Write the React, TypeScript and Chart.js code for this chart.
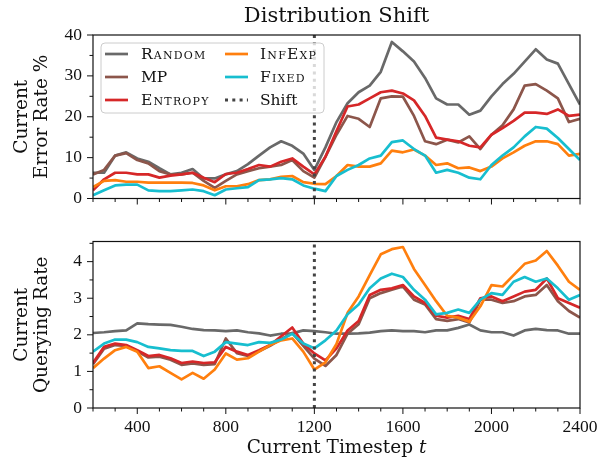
import React, { useEffect, useRef } from "react";
import { Chart, registerables } from "chart.js";

Chart.register(...registerables);

// ---------------- data ----------------
const TIMESTEPS = [
  200, 250, 300, 350, 400, 450, 500, 550, 600, 650, 700, 750, 800, 850, 900,
  950, 1000, 1050, 1100, 1150, 1200, 1250, 1300, 1350, 1400, 1450, 1500, 1550,
  1600, 1650, 1700, 1750, 1800, 1850, 1900, 1950, 2000, 2050, 2100, 2150, 2200,
  2250, 2300, 2350, 2400,
];
const SHIFT_T = 1200;

// Current error rate (%)
const ERR_RANDOM = [
  6.3, 6.3, 10.5, 11.3, 9.8, 9, 7.4, 5.9, 6.3, 7.2, 4.9, 4.9, 5.9, 6.7, 8.4,
  10.5, 12.5, 14, 12.9, 11, 7, 12.5, 18.7, 23.3, 26, 27.6, 31, 38.3, 36, 33.5,
  29.5, 24.5, 23, 23, 20.5, 21.5, 25, 28, 30.5, 33.5, 36.5, 34, 33, 28, 23,
];
const ERR_MP = [
  5.9, 7, 10.5, 11.1, 9.4, 8.6, 6.7, 5.9, 5.9, 6.3, 4.3, 2.6, 4.3, 5.9, 6.7,
  7.4, 7.8, 8.2, 9.4, 6.7, 5.1, 10.2, 15.6, 20.2, 19.5, 17.5, 24.5, 25, 24.9,
  20.2, 14, 13.3, 14.4, 13.7, 15.2, 12.1, 15.6, 17.9, 21.8, 27.6, 28, 26.4,
  24.5, 18.7, 19.5,
];
const ERR_ENTROPY = [
  2, 4.7, 6.3, 6.3, 5.9, 5.9, 5.1, 5.6, 5.9, 6.3, 5.1, 4, 6, 6.3, 7.2, 8.2,
  7.8, 9, 9.8, 7.8, 5.9, 10.2, 16.5, 22.5, 23, 24.5, 26, 26.4, 25.7, 24, 20.2,
  14.9, 14.4, 14, 12.9, 12.5, 15.6, 17.2, 19, 21, 21, 20.7, 21.8, 20.2, 20.5,
];
const ERR_INFEXP = [
  2.8, 4.3, 4.5, 4.1, 4.1, 3.9, 3.9, 3.9, 3.9, 3.8, 3.2, 2, 3, 3, 3.5, 4.5,
  4.7, 5.3, 5.5, 4, 3.6, 3.5, 5.5, 8.2, 7.8, 7.8, 8.6, 11.7, 11.3, 12, 10.5,
  8.2, 8.6, 7.4, 7.6, 6.7, 7.8, 9.8, 11.3, 12.9, 14, 14, 13.3, 10.5, 10.9,
];
const ERR_FIXED = [
  0.8, 2, 3.2, 3.4, 3.4, 2, 1.8, 1.8, 2, 2.2, 1.8, 0.8, 2.2, 2.5, 2.8, 4.5,
  4.7, 5, 4.7, 3.2, 2.4, 1.8, 5.5, 7, 8.2, 9.8, 10.5, 13.8, 14.2, 12.1, 10.5,
  6.3, 7, 6.3, 5.1, 4.7, 8.2, 10.5, 12.5, 15.2, 17.5, 17.1, 14.8, 12.1, 9.4,
];

// Current querying rate
const Q_RANDOM = [
  2.05, 2.07, 2.1, 2.12, 2.31, 2.29, 2.28, 2.27, 2.22, 2.16, 2.13, 2.12, 2.1,
  2.12, 2.07, 2.04, 1.98, 2.03, 2.04, 2.12, 2.1, 2.07, 2.03, 2.03, 2.04, 2.06,
  2.1, 2.12, 2.1, 2.1, 2.07, 2.12, 2.12, 2.19, 2.28, 2.12, 2.07, 2.07, 1.98,
  2.12, 2.16, 2.13, 2.12, 2.03, 2.03,
];
const Q_MP = [
  1.2, 1.62, 1.72, 1.7, 1.55, 1.38, 1.4, 1.32, 1.18, 1.22, 1.18, 1.2, 1.9, 1.5,
  1.42, 1.55, 1.7, 1.88, 2.05, 1.7, 1.35, 1.15, 1.45, 2.03, 2.29, 3.0, 3.14,
  3.23, 3.32, 2.96, 2.83, 2.43, 2.38, 2.43, 2.34, 2.96, 2.96, 2.87, 2.92, 3.05,
  3.09, 3.36, 2.92, 2.65, 2.47,
];
const Q_ENTROPY = [
  1.23, 1.67, 1.76, 1.72, 1.58, 1.42, 1.45, 1.36, 1.23, 1.27, 1.23, 1.25, 1.67,
  1.54, 1.45, 1.58, 1.72, 1.96, 2.2, 1.76, 1.49, 1.3, 1.63, 2.12, 2.38, 3.09,
  3.23, 3.27, 3.36, 3.05, 2.87, 2.52, 2.47, 2.52, 2.43, 3.0, 3.05, 2.92, 3.05,
  3.18, 3.23, 3.54, 3.0, 2.87, 2.74,
];
const Q_INFEXP = [
  1.09, 1.35, 1.58, 1.67, 1.54, 1.09, 1.14, 0.96, 0.78, 0.96, 0.8, 1.05, 1.49,
  1.32, 1.36, 1.54, 1.72, 1.85, 1.9, 1.54, 1.05, 1.25, 1.75, 2.6, 3.05, 3.63,
  4.2, 4.34, 4.4, 3.8, 3.36, 2.92, 2.52, 2.47, 2.36, 2.78, 3.36, 3.32, 3.63,
  3.94, 4.03, 4.29, 3.89, 3.45, 3.23,
];
const Q_FIXED = [
  1.54, 1.76, 1.87, 1.87, 1.8, 1.67, 1.63, 1.58, 1.56, 1.56, 1.42, 1.54, 1.8,
  1.76, 1.72, 1.8, 1.78, 1.87, 2.03, 1.76, 1.63, 1.85, 2.12, 2.56, 2.83, 3.27,
  3.54, 3.67, 3.58, 3.23, 2.96, 2.56, 2.6, 2.69, 2.6, 2.96, 3.14, 3.09, 3.45,
  3.58, 3.45, 3.54, 3.27, 2.96, 3.09,
];

const NAMES = ["Random", "MP", "Entropy", "InfExp", "Fixed"];
const SMALL_CAPS = [true, false, true, true, true];
const SHIFT_NAME = "Shift";

const X_MAJOR = [400, 800, 1200, 1600, 2000, 2400];
const X_MINOR = [
  200, 300, 500, 600, 700, 900, 1000, 1100, 1300, 1400, 1500, 1700, 1800, 1900,
  2100, 2200, 2300,
];
const ERR_MAJOR = [0, 10, 20, 30, 40];
const ERR_MINOR = [5, 15, 25, 35];
const Q_MAJOR = [0, 1, 2, 3, 4];
const Q_MINOR = [0.5, 1.5, 2.5, 3.5, 4.5];

const TITLE = "Distribution Shift";
const ERR_YTITLE = ["Current", "Error Rate %"];
const Q_YTITLE = ["Current", "Querying Rate"];
const XTITLE = "Current Timestep ";
const XTITLE_VAR = "t";

// ---------------- styles ----------------
const COLORS = ["#696969", "#8c564b", "#d62728", "#ff7f0e", "#17becf"];
const SHIFT_COLOR = "#444444";
const TEXT_FONT = '"DejaVu Serif"';
const NUM_FONT = '"Liberation Serif"';
const INK = "#111111";

function buildDatasets(series: number[][], yMin: number, yMax: number) {
  const ds: any[] = series.map((vals, i) => ({
    label: NAMES[i],
    data: TIMESTEPS.map((t, j) => ({ x: t, y: vals[j] })),
    borderColor: COLORS[i],
    backgroundColor: COLORS[i],
    borderWidth: 2.7,
    pointRadius: 0,
    tension: 0,
    fill: false,
    borderJoinStyle: "round",
    order: 10 - i,
  }));
  ds.push({
    label: SHIFT_NAME,
    data: [
      { x: SHIFT_T, y: yMin },
      { x: SHIFT_T, y: yMax },
    ],
    borderColor: SHIFT_COLOR,
    borderWidth: 3,
    borderDash: [3, 4.3],
    borderCapStyle: "butt",
    pointRadius: 0,
    fill: false,
    order: 0,
  });
  return ds;
}

function drawLegend(ctx: CanvasRenderingContext2D) {
  const box = { x: 101, y: 43, w: 223, h: 70, r: 4 };
  ctx.save();
  ctx.beginPath();
  const { x, y, w, h, r } = box;
  ctx.moveTo(x + r, y);
  ctx.lineTo(x + w - r, y);
  ctx.arcTo(x + w, y, x + w, y + r, r);
  ctx.lineTo(x + w, y + h - r);
  ctx.arcTo(x + w, y + h, x + w - r, y + h, r);
  ctx.lineTo(x + r, y + h);
  ctx.arcTo(x, y + h, x, y + h - r, r);
  ctx.lineTo(x, y + r);
  ctx.arcTo(x, y, x + r, y, r);
  ctx.closePath();
  ctx.fillStyle = "rgba(255,255,255,0.8)";
  ctx.fill();
  ctx.strokeStyle = "#cccccc";
  ctx.lineWidth = 1;
  ctx.stroke();

  const rows = [54, 77, 100];
  const cols = [
    { s0: 105, s1: 128, tx: 141 },
    { s0: 225, s1: 248, tx: 260 },
  ];
  const items = [
    ...NAMES.map((n, i) => ({ name: n, color: COLORS[i], sc: SMALL_CAPS[i], dash: false })),
    { name: SHIFT_NAME, color: SHIFT_COLOR, sc: false, dash: true },
  ];
  items.forEach((it, k) => {
    const c = cols[Math.floor(k / 3)];
    const ry = rows[k % 3];
    ctx.beginPath();
    ctx.strokeStyle = it.color;
    ctx.lineWidth = it.dash ? 3 : 2.7;
    ctx.setLineDash(it.dash ? [3, 4.3] : []);
    ctx.lineCap = "butt";
    ctx.moveTo(c.s0, ry);
    ctx.lineTo(c.s1, ry);
    ctx.stroke();
    ctx.setLineDash([]);
    ctx.font = (it.sc ? "small-caps " : "") + "15.5px " + TEXT_FONT;
    (ctx as any).fontVariantCaps = it.sc ? "small-caps" : "normal";
    (ctx as any).letterSpacing = it.sc ? "1.2px" : "0px";
    ctx.fillStyle = INK;
    ctx.textAlign = "left";
    ctx.textBaseline = "middle";
    ctx.fillText(it.name, c.tx, ry + 1);
  });
  (ctx as any).fontVariantCaps = "normal";
  (ctx as any).letterSpacing = "0px";
  ctx.restore();
}

function makeDecor(cfg: {
  yMajor: number[];
  yMinor: number[];
  top: boolean;
}) {
  return {
    id: "decor",
    afterDraw(chart: any) {
      const { ctx, chartArea: a, scales } = chart;
      const xs = scales.x;
      const ys = scales.y;
      ctx.save();
      ctx.strokeStyle = INK;
      ctx.lineWidth = 1.2;
      ctx.strokeRect(a.left, a.top, a.right - a.left, a.bottom - a.top);
      ctx.lineWidth = 1;
      const seg = (x1: number, y1: number, x2: number, y2: number) => {
        ctx.beginPath();
        ctx.moveTo(x1, y1);
        ctx.lineTo(x2, y2);
        ctx.stroke();
      };
      X_MAJOR.forEach((v) => {
        const p = xs.getPixelForValue(v);
        seg(p, a.bottom, p, a.bottom + 6);
      });
      X_MINOR.forEach((v) => {
        const p = xs.getPixelForValue(v);
        seg(p, a.bottom, p, a.bottom + 3.5);
      });
      cfg.yMajor.forEach((v) => {
        const p = ys.getPixelForValue(v);
        seg(a.left - 6, p, a.left, p);
      });
      cfg.yMinor.forEach((v) => {
        const p = ys.getPixelForValue(v);
        seg(a.left - 3.5, p, a.left, p);
      });
      const cx = (a.left + a.right) / 2;
      if (cfg.top) {
        ctx.fillStyle = INK;
        ctx.font = "21px " + TEXT_FONT;
        ctx.textAlign = "center";
        ctx.textBaseline = "alphabetic";
        ctx.fillText(TITLE, cx, 22);
        drawLegend(ctx);
      } else {
        ctx.fillStyle = INK;
        ctx.textBaseline = "alphabetic";
        ctx.textAlign = "left";
        ctx.font = "18.5px " + TEXT_FONT;
        const w1 = ctx.measureText(XTITLE).width;
        ctx.font = "italic 18.5px " + TEXT_FONT;
        const w2 = ctx.measureText(XTITLE_VAR).width;
        const x0 = cx - (w1 + w2) / 2;
        const by = 233;
        ctx.font = "18.5px " + TEXT_FONT;
        ctx.fillText(XTITLE, x0, by);
        ctx.font = "italic 18.5px " + TEXT_FONT;
        ctx.fillText(XTITLE_VAR, x0 + w1, by);
      }
      ctx.restore();
    },
  };
}

function makeConfig(o: {
  series: number[][];
  yMax: number;
  yMajor: number[];
  yMinor: number[];
  yTitle: string[];
  padTop: number;
  xHeight: number;
  top: boolean;
}): any {
  return {
    type: "line",
    data: { datasets: buildDatasets(o.series, 0, o.yMax) },
    options: {
      responsive: false,
      animation: false,
      events: [],
      layout: { padding: { top: o.padTop, right: 31, bottom: 0, left: 0 } },
      plugins: {
        legend: { display: false },
        tooltip: { enabled: false },
        title: { display: false },
      },
      scales: {
        x: {
          type: "linear",
          min: 200,
          max: 2400,
          grid: { display: false, drawTicks: false },
          border: { display: false },
          ticks: {
            display: !o.top,
            padding: 9,
            color: INK,
            maxRotation: 0,
            autoSkip: false,
            font: { family: NUM_FONT, size: 17.5 },
            callback: (v: any) => String(v),
          },
          afterBuildTicks: (s: any) => {
            s.ticks = X_MAJOR.map((v) => ({ value: v }));
          },
          afterFit: (s: any) => {
            s.height = o.xHeight;
          },
        },
        y: {
          type: "linear",
          min: 0,
          max: o.yMax,
          grid: { display: false, drawTicks: false },
          border: { display: false },
          ticks: {
            padding: 11,
            color: INK,
            autoSkip: false,
            font: { family: NUM_FONT, size: 17.5 },
            callback: (v: any) => String(v),
          },
          title: {
            display: true,
            text: o.yTitle,
            color: INK,
            font: { family: TEXT_FONT, size: 18.5, lineHeight: 1.08 },
            padding: { top: 12, bottom: 0 },
          },
          afterBuildTicks: (s: any) => {
            s.ticks = o.yMajor.map((v) => ({ value: v }));
          },
          afterFit: (s: any) => {
            s.width = 93;
          },
        },
      },
    },
    plugins: [makeDecor({ yMajor: o.yMajor, yMinor: o.yMinor, top: o.top })],
  };
}

export default function App() {
  const topRef = useRef<HTMLCanvasElement>(null);
  const botRef = useRef<HTMLCanvasElement>(null);

  useEffect(() => {
    const c1 = new Chart(
      topRef.current as HTMLCanvasElement,
      makeConfig({
        series: [ERR_RANDOM, ERR_MP, ERR_ENTROPY, ERR_INFEXP, ERR_FIXED],
        yMax: 40,
        yMajor: ERR_MAJOR,
        yMinor: ERR_MINOR,
        yTitle: ERR_YTITLE,
        padTop: 35,
        xHeight: 13,
        top: true,
      })
    );
    const c2 = new Chart(
      botRef.current as HTMLCanvasElement,
      makeConfig({
        series: [Q_RANDOM, Q_MP, Q_ENTROPY, Q_INFEXP, Q_FIXED],
        yMax: 4.55,
        yMajor: Q_MAJOR,
        yMinor: Q_MINOR,
        yTitle: Q_YTITLE,
        padTop: 17,
        xHeight: 59,
        top: false,
      })
    );
    return () => {
      c1.destroy();
      c2.destroy();
    };
  }, []);

  return (
    <div
      style={{
        position: "fixed",
        left: 0,
        top: 0,
        width: 611,
        height: 467,
        background: "#ffffff",
        overflow: "hidden",
      }}
    >
      <canvas ref={topRef} width={611} height={220} style={{ display: "block" }} />
      <canvas ref={botRef} width={611} height={247} style={{ display: "block" }} />
    </div>
  );
}
